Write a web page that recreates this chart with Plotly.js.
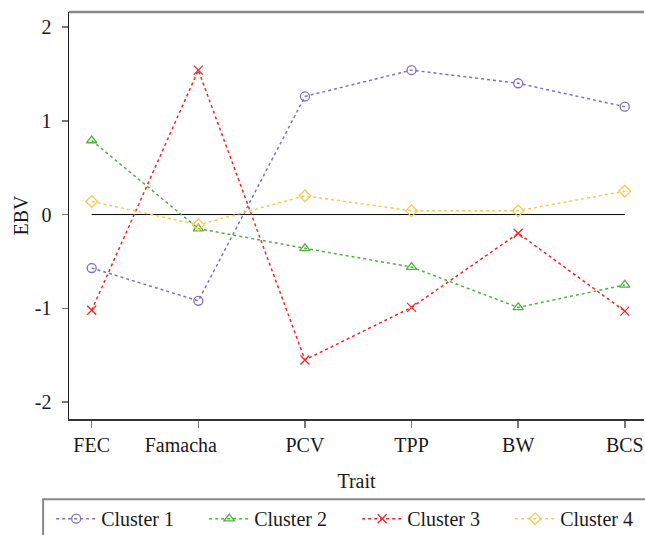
<!DOCTYPE html>
<html>
<head>
<meta charset="utf-8">
<script src="https://cdn.plot.ly/plotly-3.0.1.min.js"></script>
<style>html,body{margin:0;padding:0;background:#fff;}#chart{width:645px;height:535px;}</style>
</head>
<body>
<div id="chart"></div>
<script>
var traits = ["FEC", "Famacha", "PCV", "TPP", "BW", "BCS"];
var xTickLabels = ["FEC", "Famacha\u00a0\u00a0\u00a0\u00a0\u00a0\u00a0\u00a0", "PCV", "TPP", "BW", "BCS"];
var cluster1 = [-0.57, -0.92, 1.26, 1.54, 1.40, 1.15];
var cluster2 = [0.79, -0.15, -0.36, -0.56, -0.99, -0.75];
var cluster3 = [-1.02, 1.54, -1.55, -0.99, -0.20, -1.03];
var cluster4 = [0.14, -0.11, 0.20, 0.04, 0.04, 0.25];
var baseline = [0, 0, 0, 0, 0, 0];
var seriesNames = ["Cluster 1", "Cluster 2", "Cluster 3", "Cluster 4"];
var yTicks = [-2, -1, 0, 1, 2];
var yTickLabels = ["-2", "-1", "0", "1", "2"];

var colors = ["#7b72c4", "#4db33d", "#ff2020", "#f5cc50"];
var symbols = ["circle-open", "triangle-up-open", "x-thin-open", "diamond-open"];
var data = [{
  x: traits, y: baseline, mode: "lines", type: "scatter",
  line: {color: "#000", width: 1}, showlegend: false, hoverinfo: "skip"
}];
[cluster1, cluster2, cluster3, cluster4].forEach(function (vals, i) {
  data.push({
    x: traits, y: vals, name: seriesNames[i], type: "scatter", mode: "lines+markers",
    line: {color: colors[i], width: 1.5, dash: "3px,3px"},
    marker: {symbol: symbols[i], size: 9, color: colors[i], line: {color: colors[i], width: 1.3}}
  });
});

var font = {family: "Liberation Serif, Times New Roman, serif", size: 20, color: "#1a1a1a"};
var layout = {
  width: 645, height: 535,
  margin: {l: 69, r: 1, t: 12, b: 116, autoexpand: false},
  paper_bgcolor: "#fff", plot_bgcolor: "#fff",
  font: font,
  showlegend: true,
  xaxis: {
    type: "category", range: [-0.213, 5.18], showgrid: false, zeroline: false,
    tickvals: traits, ticktext: xTickLabels,
    showline: true, linecolor: "#333", linewidth: 1.5, mirror: false,
    ticks: "outside", ticklen: 7, tickcolor: "#777", tickwidth: 1.5,
    tickfont: font, title: {text: "Trait", font: font, standoff: 19}
  },
  yaxis: {
    range: [-2.18, 2.16], tickvals: yTicks, ticktext: yTickLabels, showgrid: false, zeroline: false,
    showline: true, linecolor: "#222", linewidth: 1.5,
    ticks: "outside", ticklen: 6, tickcolor: "#777", tickwidth: 1.5, ticklabelstandoff: 6,
    tickfont: font, title: {text: "EBV", font: font, standoff: 1}
  },
  legend: {
    orientation: "h", x: -0.031, xanchor: "left", y: -0.197, yanchor: "top",
    bgcolor: "rgba(0,0,0,0)", borderwidth: 0, font: font,
    entrywidth: 98, itemwidth: 40, tracegroupgap: 0
  },
  shapes: [
    {type: "line", xref: "paper", yref: "paper", x0: 0, x1: 1, y0: 1, y1: 1,
     line: {color: "#888", width: 2.5}},
    {type: "rect", xref: "paper", yref: "paper", x0: -0.045, x1: 1.01, y0: -0.197, y1: -0.31,
     line: {color: "#888", width: 2}}
  ]
};
Plotly.newPlot("chart", data, layout, {displayModeBar: false, staticPlot: true});
</script>
</body>
</html>
